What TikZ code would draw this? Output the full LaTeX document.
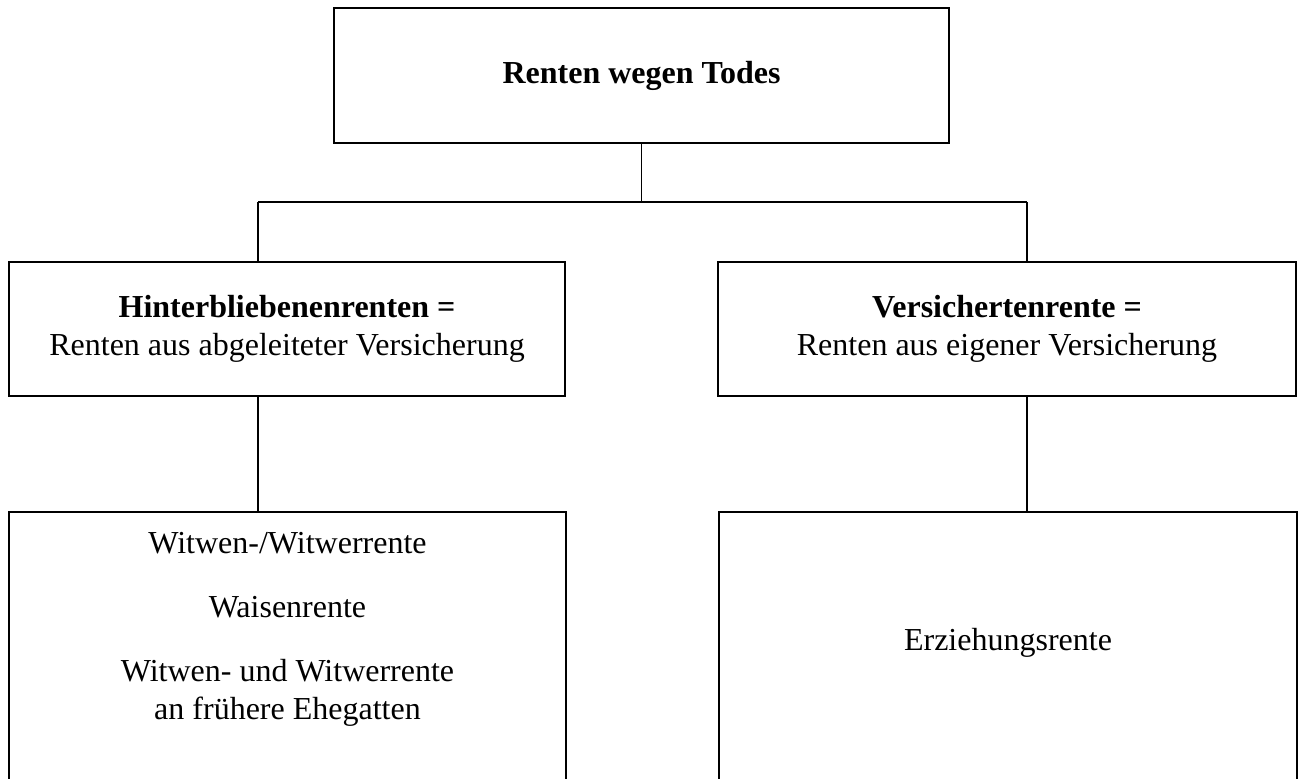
\documentclass[tikz,border=0pt]{standalone}
\usepackage{fontspec}
\setmainfont{Liberation Serif}
\begin{document}
\begin{tikzpicture}[x=0.75pt,y=-0.75pt,
  box/.style={draw=black,line width=1.4pt,rectangle,inner sep=0pt,align=center,
    font=\fontsize{24}{28.5}\selectfont},
  txt/.style={inner sep=0pt,align=center,font=\fontsize{24}{28.5}\selectfont},
  conn/.style={draw=black,line width=1.3pt}]
\useasboundingbox (0,0) rectangle (1299,778);
% top
\node[box,minimum width=615*0.75pt,minimum height=135*0.75pt] (top) at (641.5,75.5) {\textbf{Renten wegen Todes}};
% second level
\node[box,minimum width=556*0.75pt,minimum height=134*0.75pt] (hint) at (287,329)
  {\textbf{Hinterbliebenenrenten =}\\Renten aus abgeleiteter Versicherung};
\node[box,minimum width=578*0.75pt,minimum height=134*0.75pt] (vers) at (1007,329)
  {\textbf{Versichertenrente =}\\Renten aus eigener Versicherung};
% third level (extends below page)
\node[box,minimum width=557*0.75pt,minimum height=400*0.75pt,anchor=north] (lowl) at (287.5,511) {};
\node[box,minimum width=578*0.75pt,minimum height=400*0.75pt,anchor=north] (lowr) at (1008,511) {};
\node[txt,anchor=north] (lowltxt) at (287.5,532)
  {Witwen-/Witwerrente\\[19.5pt]Waisenrente\\[19.5pt]Witwen- und Witwerrente\\an frühere Ehegatten};
\node[txt,anchor=base] (lowrtxt) at (1008,650) {Erziehungsrente};
% connectors
\coordinate (jl) at (258,202);
\coordinate (jr) at (1027,202);
\coordinate (jm) at (top.south |- jl);
\draw[conn] (top.south) -- (jm);
\draw[conn] (jl) -- (jr);
\draw[conn] (jl) -- (jl |- hint.north);
\draw[conn] (jr) -- (jr |- vers.north);
\draw[conn] (jl |- hint.south) -- (jl |- lowl.north);
\draw[conn] (jr |- vers.south) -- (jr |- lowr.north);
\end{tikzpicture}
\end{document}
